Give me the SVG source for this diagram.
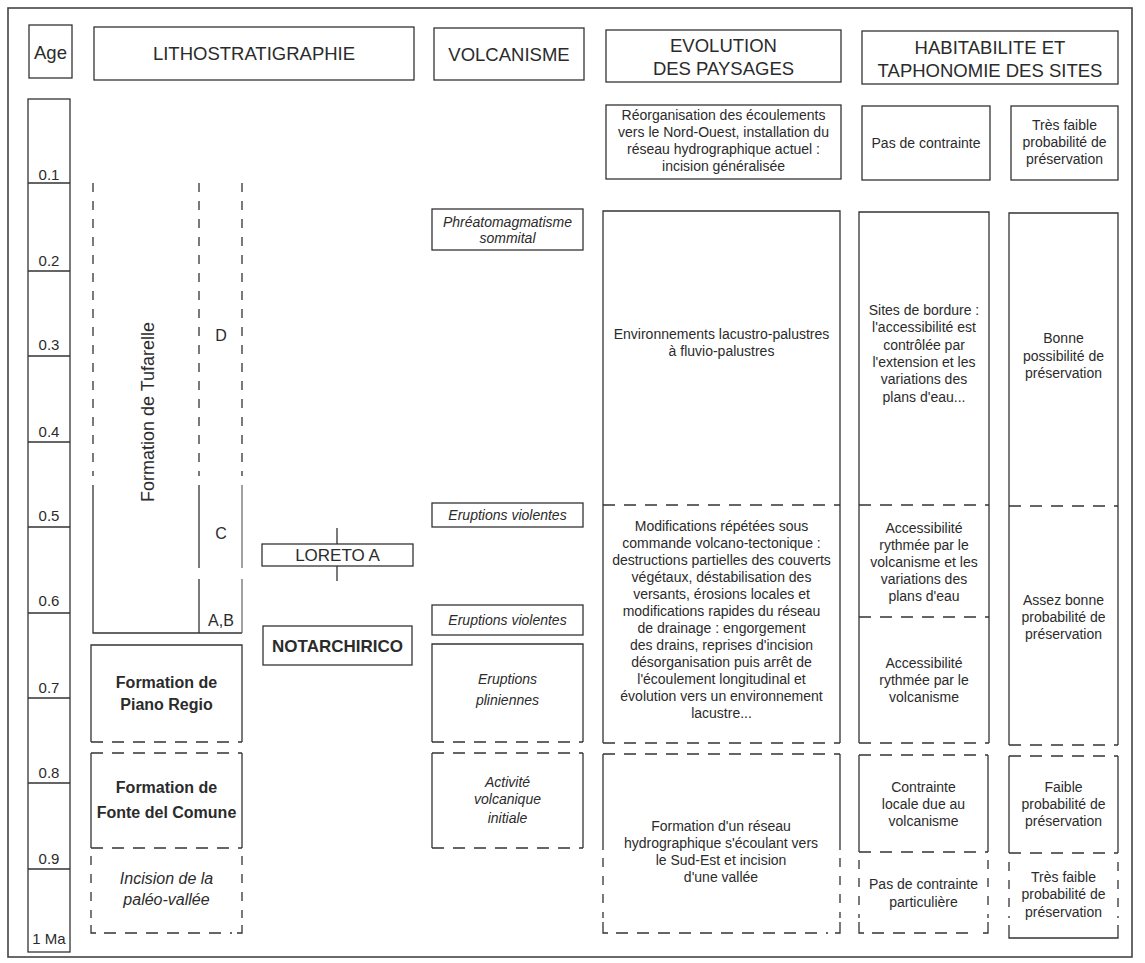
<svg xmlns="http://www.w3.org/2000/svg" width="1145" height="963" viewBox="0 0 1145 963">
<style>
.ln{fill:none;stroke:#333;stroke-width:1.3}
.dh{fill:none;stroke:#333;stroke-width:1.3;stroke-dasharray:12 9}
.dv{fill:none;stroke:#333;stroke-width:1.3;stroke-dasharray:9 9}
.lt{fill:none;stroke:#555;stroke-width:1.1}
text{font-family:"Liberation Sans",Arial,Helvetica,sans-serif;fill:#2b2b2b;text-anchor:middle}
.t{font-size:14px}
.h{font-size:18.5px}
.a{font-size:15px}
.f{font-size:16px}
.i{font-style:italic}
.b{font-weight:bold}
</style>
<rect x="0" y="0" width="1145" height="963" fill="#fff"/>
<rect x="8" y="8" width="1124" height="949" fill="none" stroke="#444" stroke-width="1.6"/>

<g id="headers">
<g id="h-age"><rect class="ln" x="29" y="25" width="43" height="53"/><text class="h" x="50.5" y="59">Age</text></g>
<g id="h-litho"><rect class="ln" x="94" y="27" width="320" height="53"/><text class="h" x="254" y="60">LITHOSTRATIGRAPHIE</text></g>
<g id="h-volc"><rect class="ln" x="434" y="28" width="150" height="52"/><text class="h" x="509" y="61">VOLCANISME</text></g>
<g id="h-evol"><rect class="ln" x="606" y="30" width="235" height="52"/><text class="h" x="723.5" y="52">EVOLUTION</text><text class="h" x="723.5" y="75">DES PAYSAGES</text></g>
<g id="h-habit"><rect class="ln" x="862" y="31" width="256" height="53"/><text class="h" x="990" y="54">HABITABILITE ET</text><text class="h" x="990" y="77">TAPHONOMIE DES SITES</text></g>
</g>

<g id="age-scale">
<rect class="ln" x="28" y="99" width="42" height="853"/>
<path class="ln" d="M28,183H70M28,271H70M28,356H70M28,442H70M28,527H70M28,613H70M28,698H70M28,783H70M28,869H70"/>
<text class="a" x="49" y="179.5">0.1</text>
<text class="a" x="49" y="265.5">0.2</text>
<text class="a" x="49" y="349.5">0.3</text>
<text class="a" x="49" y="436.5">0.4</text>
<text class="a" x="49" y="520.5">0.5</text>
<text class="a" x="49" y="605.5">0.6</text>
<text class="a" x="49" y="692.5">0.7</text>
<text class="a" x="49" y="777.5">0.8</text>
<text class="a" x="49" y="863.5">0.9</text>
<text class="a" x="49" y="943.5">1 Ma</text>
</g>

<g id="tufarelle">
<path class="dv" d="M93,183V476M199,183V476M242,183V476"/>
<path class="ln" d="M93,485V633H242M199,485V568M199,579V633"/>
<path class="lt" d="M242,485V568M242,579V633"/>
<text class="f" transform="translate(154,412) rotate(-90)" style="font-size:18px">Formation de Tufarelle</text>
<text class="f" x="221" y="341">D</text>
<text class="f" x="221" y="539">C</text>
<text class="f" x="221" y="626">A,B</text>
</g>

<g id="piano-regio">
<path class="ln" d="M91,742V645H242V742"/>
<path class="dh" d="M91,742H242"/>
<text class="f b" x="166.5" y="688">Formation de</text>
<text class="f b" x="166.5" y="710">Piano Regio</text>
</g>

<g id="fonte-del-comune">
<path class="ln" d="M91,761V848M242,761V848M91,753V761M242,753V761"/>
<path class="dh" d="M91,753H242M91,848H242"/>
<text class="f b" x="166.5" y="793">Formation de</text>
<text class="f b" x="166.5" y="818">Fonte del Comune</text>
</g>

<g id="incision-paleo-vallee">
<path class="dv" d="M91,856V918M242,856V918"/>
<path class="ln" d="M91,925V933H96M242,925V933H237"/>
<path class="dh" d="M104,933H232"/>
<text class="f i" x="166.5" y="884">Incision de la</text>
<text class="f i" x="166.5" y="905">paléo-vallée</text>
</g>

<g id="loreto-a">
<rect class="ln" x="262" y="544" width="151" height="22"/>
<text x="337.5" y="561" style="font-size:17px">LORETO A</text>
</g>

<g id="notarchirico">
<rect class="ln" x="263" y="626" width="149" height="39"/>
<text class="b" x="337.5" y="652" style="font-size:17px">NOTARCHIRICO</text>
</g>

<g id="connectors">
<path class="ln" d="M337,528V544M337,566V581"/>
</g>

<g id="phreatomagmatisme">
<rect class="ln" x="432" y="209" width="151" height="41"/>
<text class="t i" x="507.5" y="227">Phréatomagmatisme</text>
<text class="t i" x="507.5" y="243">sommital</text>
</g>

<g id="eruptions-violentes-1">
<rect class="ln" x="432" y="503" width="151" height="24"/>
<text class="t i" x="507.5" y="520">Eruptions violentes</text>
</g>

<g id="eruptions-violentes-2">
<rect class="ln" x="432" y="605" width="151" height="30"/>
<text class="t i" x="507.5" y="625">Eruptions violentes</text>
</g>

<g id="eruptions-pliniennes">
<path class="ln" d="M432,742V644H583V742"/>
<path class="dh" d="M432,742H583"/>
<text class="t i" x="507.5" y="684">Eruptions</text>
<text class="t i" x="507.5" y="705">pliniennes</text>
</g>

<g id="activite-volcanique">
<path class="ln" d="M432,753V848M583,753V848"/>
<path class="dh" d="M432,753H583M432,848H583"/>
<text class="t i" x="507.5" y="787">Activité</text>
<text class="t i" x="507.5" y="804">volcanique</text>
<text class="t i" x="507.5" y="823">initiale</text>
</g>

<g id="reorganisation">
<rect class="ln" x="606" y="105" width="235" height="74"/>
<text class="t" x="723.5" y="120">Réorganisation des écoulements</text>
<text class="t" x="723.5" y="137">vers le Nord-Ouest, installation du</text>
<text class="t" x="723.5" y="154">réseau hydrographique actuel :</text>
<text class="t" x="723.5" y="171">incision généralisée</text>
</g>

<g id="pas-de-contrainte">
<rect class="ln" x="862" y="106" width="128" height="74"/>
<text class="t" x="926" y="148">Pas de contrainte</text>
</g>

<g id="tres-faible-1">
<rect class="ln" x="1011" y="106" width="107" height="74"/>
<text class="t" x="1064.5" y="130">Très faible</text>
<text class="t" x="1064.5" y="147">probabilité de</text>
<text class="t" x="1064.5" y="164">préservation</text>
</g>

<g id="evolution-column">
<path class="ln" d="M603,743V211H840V743"/>
<path class="dh" d="M603,743H840M603,505H840"/>
<text class="t" x="721.5" y="339">Environnements lacustro-palustres</text>
<text class="t" x="721.5" y="356">à fluvio-palustres</text>
<text class="t" x="721.5" y="531">Modifications répétées sous</text>
<text class="t" x="721.5" y="548">commande volcano-tectonique :</text>
<text class="t" x="721.5" y="565">destructions partielles des couverts</text>
<text class="t" x="721.5" y="582">végétaux, déstabilisation des</text>
<text class="t" x="721.5" y="599">versants, érosions locales et</text>
<text class="t" x="721.5" y="616">modifications rapides du réseau</text>
<text class="t" x="721.5" y="633">de drainage : engorgement</text>
<text class="t" x="721.5" y="650">des drains, reprises d'incision</text>
<text class="t" x="721.5" y="667">désorganisation puis arrêt de</text>
<text class="t" x="721.5" y="684">l'écoulement longitudinal et</text>
<text class="t" x="721.5" y="701">évolution vers un environnement</text>
<text class="t" x="721.5" y="718">lacustre...</text>
</g>

<g id="habitability-column">
<path class="ln" d="M859,743V212H989V743"/>
<path class="dh" d="M859,743H989M859,505H989M859,617H989"/>
<text class="t" x="924" y="315">Sites de bordure :</text>
<text class="t" x="924" y="332">l'accessibilité est</text>
<text class="t" x="924" y="349.5">contrôlée par</text>
<text class="t" x="924" y="367">l'extension et les</text>
<text class="t" x="924" y="384">variations des</text>
<text class="t" x="924" y="401.5">plans d'eau...</text>
<text class="t" x="924" y="533">Accessibilité</text>
<text class="t" x="924" y="550">rythmée par le</text>
<text class="t" x="924" y="567">volcanisme et les</text>
<text class="t" x="924" y="584">variations des</text>
<text class="t" x="924" y="601">plans d'eau</text>
<text class="t" x="924" y="668">Accessibilité</text>
<text class="t" x="924" y="685">rythmée par le</text>
<text class="t" x="924" y="702">volcanisme</text>
</g>

<g id="preservation-column">
<path class="ln" d="M1009,745V213H1118V745"/>
<path class="dh" d="M1009,745H1118M1009,506H1118"/>
<text class="t" x="1063.5" y="343">Bonne</text>
<text class="t" x="1063.5" y="360.5">possibilité de</text>
<text class="t" x="1063.5" y="378">préservation</text>
<text class="t" x="1063.5" y="605">Assez bonne</text>
<text class="t" x="1063.5" y="622">probabilité de</text>
<text class="t" x="1063.5" y="639">préservation</text>
</g>

<g id="formation-reseau">
<path class="ln" d="M603,754V850M840,754V850"/>
<path class="dh" d="M603,754H840"/>
<path class="dv" d="M603,858V918M840,858V918"/>
<path class="ln" d="M603,922V933H608M840,922V933H835"/>
<path class="dh" d="M616,933H828"/>
<text class="t" x="721" y="831">Formation d'un réseau</text>
<text class="t" x="721" y="848">hydrographique s'écoulant vers</text>
<text class="t" x="721" y="865">le Sud-Est et incision</text>
<text class="t" x="721" y="882">d'une vallée</text>
</g>

<g id="contrainte-locale">
<path class="ln" d="M859,755V852M988,755V852"/>
<path class="dh" d="M859,755H988M859,852H988"/>
<text class="t" x="923.5" y="792">Contrainte</text>
<text class="t" x="923.5" y="809">locale due au</text>
<text class="t" x="923.5" y="826">volcanisme</text>
</g>

<g id="pas-de-contrainte-particuliere">
<path class="dv" d="M859,860V918M988,860V918"/>
<path class="ln" d="M859,922V933H864M988,922V933H983"/>
<path class="dh" d="M872,933H976"/>
<text class="t" x="923.5" y="889">Pas de contrainte</text>
<text class="t" x="923.5" y="907">particulière</text>
</g>

<g id="faible-probabilite">
<path class="ln" d="M1009,756V853M1118,756V853"/>
<path class="dh" d="M1009,756H1118M1009,853H1118"/>
<text class="t" x="1063.5" y="792">Faible</text>
<text class="t" x="1063.5" y="809">probabilité de</text>
<text class="t" x="1063.5" y="826">préservation</text>
</g>

<g id="tres-faible-2">
<path class="dv" d="M1009,862V918M1118,862V918"/>
<path class="ln" d="M1009,925V938H1118V925"/>
<text class="t" x="1063.5" y="882">Très faible</text>
<text class="t" x="1063.5" y="899">probabilité de</text>
<text class="t" x="1063.5" y="917">préservation</text>
</g>
</svg>
